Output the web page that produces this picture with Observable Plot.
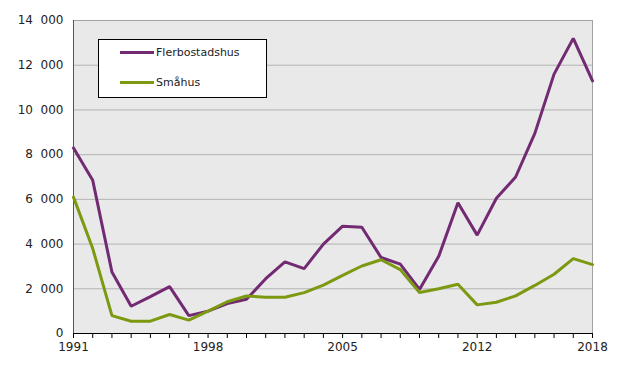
<!DOCTYPE html>
<html>
<head>
<meta charset="utf-8">
<script src="https://cdn.jsdelivr.net/npm/d3@7"></script>
<script src="https://cdn.jsdelivr.net/npm/@observablehq/plot@0.6"></script>
<style>
  html, body { margin: 0; padding: 0; background: #fff; }
  #wrap { position: relative; width: 629px; height: 368px; font-family: "DejaVu Sans", sans-serif; }
  #legend { position: absolute; left: 98px; top: 39px; width: 167px; height: 57px; background: #fff; border: 1px solid #000; font-size: 11px; color: #222; }
  .item { position: absolute; left: 21px; display: flex; align-items: center; }
  .item span.sw { display: inline-block; width: 34px; height: 3px; margin-right: 2px; }
</style>
</head>
<body>
<div id="wrap"></div>
<script>
const years = d3.range(1991, 2019);
const flerbostadshus = [8300, 6850, 2750, 1220, 1650, 2100, 800, 1000, 1340, 1530, 2450, 3200, 2900, 4000, 4800, 4750, 3400, 3100, 1970, 3450, 5850, 4400, 6050, 7000, 8950, 11600, 13200, 11300];
const smahus = [6100, 3800, 800, 550, 550, 850, 600, 1000, 1420, 1680, 1620, 1620, 1830, 2160, 2600, 3020, 3300, 2860, 1830, 2000, 2200, 1280, 1400, 1680, 2150, 2650, 3350, 3080];
const seriesNames = ["Flerbostadshus", "Småhus"];
const seriesColors = ["#722a73", "#7b9a12"];
const yTicks = [0, 2000, 4000, 6000, 8000, 10000, 12000, 14000];
const xLabelYears = [1991, 1998, 2005, 2012, 2018];

const data = [];
years.forEach((y, i) => {
  data.push({year: y, value: flerbostadshus[i], series: seriesNames[0]});
  data.push({year: y, value: smahus[i], series: seriesNames[1]});
});

const fmt = v => v === 0 ? "0" : d3.format(",")(v).replace(/,/g, "\u2007");

const chart = Plot.plot({
  width: 629,
  height: 368,
  marginLeft: 73,
  marginTop: 20,
  marginRight: 37,
  marginBottom: 35,
  style: {fontFamily: "DejaVu Sans, sans-serif", fontSize: "12px", color: "#222", background: "transparent"},
  x: {domain: [1991, 2018], label: null},
  y: {domain: [0, 14000], label: null},
  color: {domain: seriesNames, range: seriesColors},
  marks: [
    Plot.frame({fill: "#e9e9e9", stroke: "#a3a3a3"}),
    Plot.ruleY(yTicks.filter(t => t > 0 && t < 14000), {stroke: "#b3b3b3", strokeWidth: 1}),
    Plot.axisY({ticks: yTicks, tickSize: 0, tickPadding: 10, tickFormat: fmt, fontSize: 12, fill: "#222"}),
    Plot.axisX({ticks: years, tickSize: 5, tickPadding: 4, tickFormat: d => xLabelYears.includes(d) ? String(d) : "", fontSize: 12, fill: "#222", stroke: "#000"}),
    Plot.ruleY([0], {stroke: "#000", strokeWidth: 1}),
    Plot.ruleX([1991], {stroke: "#555", strokeWidth: 1}),
    Plot.line(data, {x: "year", y: "value", z: "series", stroke: "series", strokeWidth: 3, strokeLinejoin: "miter"})
  ]
});

const wrap = document.getElementById("wrap");
wrap.appendChild(chart);

const legend = document.createElement("div");
legend.id = "legend";
seriesNames.forEach((name, i) => {
  const it = document.createElement("div");
  it.className = "item";
  it.style.top = (i === 0 ? 6 : 36) + "px";
  it.innerHTML = `<span class="sw" style="background:${seriesColors[i]}"></span><span>${name}</span>`;
  legend.appendChild(it);
});
wrap.appendChild(legend);
</script>
</body>
</html>
